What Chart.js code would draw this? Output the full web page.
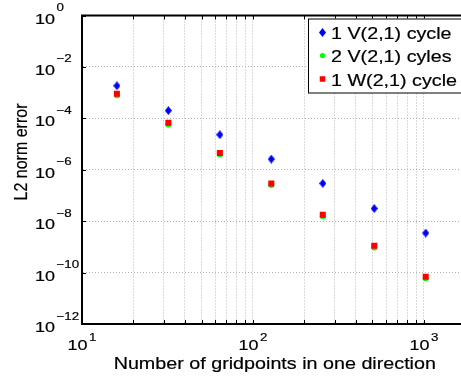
<!DOCTYPE html>
<html>
<head>
<meta charset="utf-8">
<script src="https://cdn.jsdelivr.net/npm/chart.js@4/dist/chart.umd.min.js"></script>
<style>
  html, body { margin: 0; padding: 0; background: #fff; overflow: hidden; }
  #wrap { width: 461px; height: 378px; overflow: hidden; position: relative; }
  canvas { display: block; }
</style>
</head>
<body>
<div id="wrap"><canvas id="c" width="500" height="378"></canvas></div>
<script>
// Grid sizes (points per direction) and L2 error of each multigrid variant
const gridPoints = [16, 32, 64, 128, 256, 512, 1024];
const errOneV = [1.85e-3, 2.0e-4, 2.3e-5, 2.6e-6, 2.95e-7, 3.1e-8, 3.45e-9];
const errTwoV = [7.9e-4, 5.8e-5, 3.9e-6, 2.55e-7, 1.55e-8, 0.95e-9, 6.0e-11];
const errOneW = [9.1e-4, 6.7e-5, 4.5e-6, 2.9e-7, 1.78e-8, 1.1e-9, 6.9e-11];
const seriesNames = ['1 V(2,1) cycle', '2 V(2,1) cyles', '1 W(2,1) cycle'];
const seriesColours = ['#0000ff', '#00ff00', '#ff0000'];

// Decade labels shown on each axis
const xTickExponents = [1, 2, 3];
const yTickExponents = [0, -2, -4, -6, -8, -10, -12];
const xLabel = 'Number of gridpoints in one direction';
const yLabel = 'L2 norm error';

const FONT = '"Liberation Sans", Arial, Helvetica, sans-serif';
const SX = 1.16;      // glyph widening used for all text
const WEIGHT = 0.2;   // outline added to the glyphs

// Blue diamond marker, a bit taller than wide
function diamondMarker(w, h, color) {
  const c = document.createElement('canvas');
  c.width = w; c.height = h;
  const g = c.getContext('2d');
  g.fillStyle = color;
  g.beginPath();
  g.moveTo(w / 2, 0); g.lineTo(w, h / 2); g.lineTo(w / 2, h); g.lineTo(0, h / 2);
  g.closePath();
  g.fill();
  return c;
}
const diamond = diamondMarker(7, 9, seriesColours[0]);

const toPts = (ys) => gridPoints.map((x, i) => ({ x: x, y: ys[i] }));

// x ticks: every integer multiple within each decade, labels only at powers of ten
const X_MAX = 1800;
const xTickValues = [];
for (let e = 1; e <= 3; e++) {
  for (let m = 1; m <= 9; m++) {
    const v = m * Math.pow(10, e);
    if (v <= X_MAX) xTickValues.push(v);
  }
}
const yTickValues = yTickExponents.map(e => Math.pow(10, e));

function drawText(ctx, s, x, y, size, align) {
  ctx.save();
  ctx.font = size + 'px ' + FONT;
  ctx.translate(x, y);
  ctx.scale(SX, 1);
  ctx.textAlign = align || 'left';
  ctx.textBaseline = 'alphabetic';
  ctx.fillStyle = '#000';
  ctx.strokeStyle = '#000';
  ctx.lineWidth = WEIGHT;
  ctx.fillText(s, 0, 0);
  ctx.strokeText(s, 0, 0);
  ctx.restore();
}
function textWidth(ctx, s, size) {
  ctx.save();
  ctx.font = size + 'px ' + FONT;
  const w = ctx.measureText(s).width * SX;
  ctx.restore();
  return w;
}
function expString(e) { return e < 0 ? '\u2212' + Math.abs(e) : String(e); }

const BASE = 15.5, SUP = 11.5;

// Frame, tick marks, tick labels, axis titles and legend drawn over the chart
const decorations = {
  id: 'decorations',
  afterDraw(chart) {
    const ctx = chart.ctx;
    const area = chart.chartArea;
    const xs = chart.scales.x, ys = chart.scales.y;

    // top frame line
    ctx.save();
    ctx.strokeStyle = '#000';
    ctx.lineWidth = 2;
    ctx.beginPath();
    ctx.moveTo(area.left - 1, area.top);
    ctx.lineTo(area.right, area.top);
    ctx.stroke();

    // inward tick marks
    ctx.lineWidth = 1;
    ctx.beginPath();
    xTickValues.forEach(v => {
      const px = Math.round(xs.getPixelForValue(v)) + 0.5;
      ctx.moveTo(px, area.bottom); ctx.lineTo(px, area.bottom - 4);
      ctx.moveTo(px, area.top); ctx.lineTo(px, area.top + 4);
    });
    yTickValues.forEach(v => {
      const py = Math.round(ys.getPixelForValue(v)) + 0.5;
      ctx.moveTo(area.left, py); ctx.lineTo(area.left + 4, py);
    });
    ctx.stroke();
    ctx.restore();

    // y tick labels: 10^e
    yTickExponents.forEach(e => {
      const py = ys.getPixelForValue(Math.pow(10, e));
      const bx = 35;
      drawText(ctx, '10', bx, py + 8, BASE, 'left');
      const bw = textWidth(ctx, '10', BASE);
      drawText(ctx, expString(e), bx + bw + 1.5, py - 4.5, SUP, 'left');
    });

    // x tick labels: 10^e centred on the tick
    xTickExponents.forEach(e => {
      const px = xs.getPixelForValue(Math.pow(10, e));
      const bw = textWidth(ctx, '10', BASE);
      const ew = textWidth(ctx, expString(e), SUP);
      const left = px - (bw + 1.5 + ew) / 2;
      drawText(ctx, '10', left, 350, BASE, 'left');
      drawText(ctx, expString(e), left + bw + 1.5, 341, SUP, 'left');
    });

    // axis titles
    drawText(ctx, xLabel, (area.left + area.right) / 2, 369, 17, 'center');
    ctx.save();
    ctx.font = '16px ' + FONT;
    ctx.translate(27, 152);
    ctx.rotate(-Math.PI / 2);
    ctx.scale(1, SX);
    ctx.textAlign = 'center';
    ctx.textBaseline = 'alphabetic';
    ctx.fillStyle = '#000';
    ctx.strokeStyle = '#000';
    ctx.lineWidth = WEIGHT;
    ctx.fillText(yLabel, 0, 0);
    ctx.strokeText(yLabel, 0, 0);
    ctx.restore();

    // legend box
    const lx = 308, ly = 18.5, lw = 156, lh = 74;
    ctx.save();
    ctx.fillStyle = '#fff';
    ctx.fillRect(lx, ly, lw, lh);
    ctx.strokeStyle = '#000';
    ctx.lineWidth = 1;
    ctx.strokeRect(lx + 0.5, ly + 0.5, lw, lh);
    ctx.restore();
    const rowY = [32.5, 55.5, 79];
    chart.data.datasets.forEach((ds, i) => {
      ctx.save();
      ctx.fillStyle = seriesColours[i];
      Chart.helpers.drawPoint(ctx, {
        pointStyle: ds.pointStyle,
        radius: ds.legendRadius,
        rotation: 0,
        borderWidth: 0
      }, 322.5, rowY[i]);
      ctx.restore();
      drawText(ctx, seriesNames[i], 331, rowY[i] + 6.5, 17, 'left');
    });
  }
};

new Chart(document.getElementById('c'), {
  type: 'scatter',
  data: {
    datasets: [
      { label: seriesNames[0], data: toPts(errOneV), pointStyle: diamond, legendRadius: 3.5,
        backgroundColor: seriesColours[0], borderWidth: 0, pointRadius: 4.5, order: 3 },
      { label: seriesNames[1], data: toPts(errTwoV), pointStyle: 'circle', legendRadius: 2.6,
        backgroundColor: seriesColours[1], borderColor: seriesColours[1], borderWidth: 0, pointRadius: 3, order: 2 },
      { label: seriesNames[2], data: toPts(errOneW), pointStyle: 'rect', legendRadius: 3.9,
        backgroundColor: seriesColours[2], borderColor: seriesColours[2], borderWidth: 0, pointRadius: 4.25, order: 1 }
    ]
  },
  options: {
    responsive: false,
    animation: false,
    devicePixelRatio: 1,
    layout: { padding: { left: 82, top: 15.5, right: 32.4, bottom: 54 } },
    plugins: { legend: { display: false }, tooltip: { enabled: false } },
    scales: {
      x: {
        type: 'logarithmic', min: 10, max: X_MAX,
        afterBuildTicks: (s) => { s.ticks = xTickValues.map(v => ({ value: v })); },
        ticks: { display: false },
        grid: { color: '#b4b4b4', lineWidth: 1, drawTicks: false },
        border: { display: true, color: '#000', width: 2, dash: [1, 2] },
        title: { display: false }
      },
      y: {
        type: 'logarithmic', min: 1e-12, max: 1,
        afterBuildTicks: (s) => { s.ticks = yTickValues.map(v => ({ value: v })); },
        ticks: { display: false },
        grid: { color: '#b4b4b4', lineWidth: 1, drawTicks: false },
        border: { display: true, color: '#000', width: 2, dash: [1, 2] },
        title: { display: false }
      }
    }
  },
  plugins: [decorations]
});
</script>
</body>
</html>
